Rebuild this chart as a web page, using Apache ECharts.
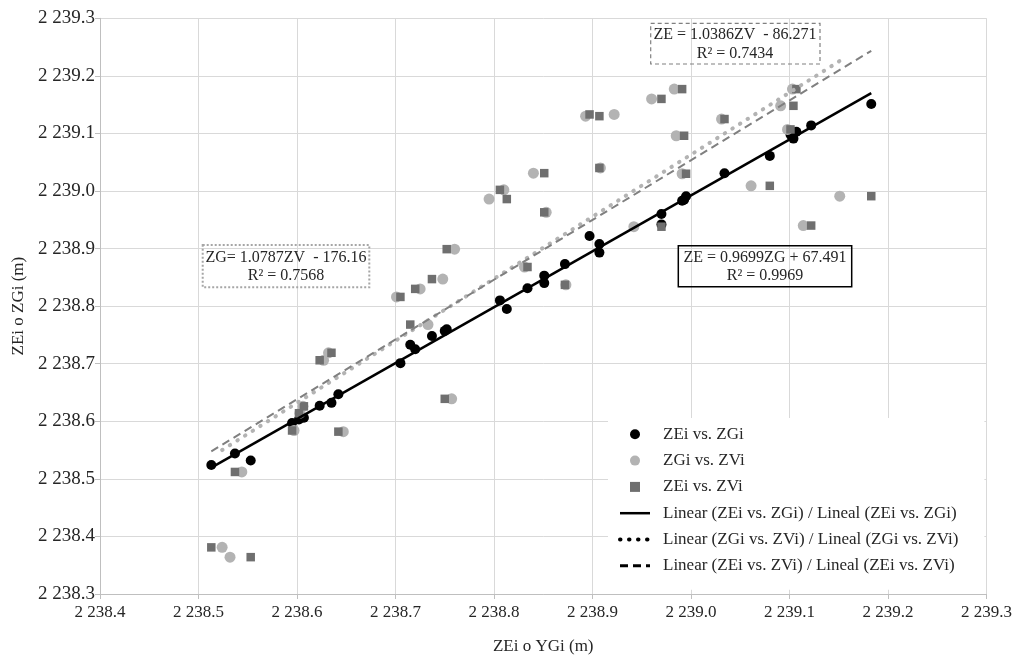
<!DOCTYPE html>
<html><head><meta charset="utf-8">
<script src="https://cdn.jsdelivr.net/npm/echarts@6/dist/echarts.min.js"></script>
<style>html,body{margin:0;padding:0;background:#fff}#c{width:1015px;height:660px}</style>
</head><body><div id="c"></div>
<script>
// Observations: ZEi, ZGi, ZVi (m)
const ZE = [2238.513, 2238.537, 2238.553, 2238.595, 2238.602, 2238.607, 2238.623, 2238.635, 2238.642, 2238.705,
            2238.715, 2238.720, 2238.737, 2238.750, 2238.752, 2238.806, 2238.813, 2238.834, 2238.851, 2238.851,
            2238.872, 2238.897, 2238.907, 2238.907, 2238.970, 2238.970, 2238.993, 2238.991, 2238.995, 2239.034,
            2239.080, 2239.101, 2239.104, 2239.107, 2239.122, 2239.183];
const ZG = [2238.524, 2238.544, 2238.532, 2238.597, 2238.603, 2238.606, 2238.627, 2238.632, 2238.647, 2238.701,
            2238.733, 2238.725, 2238.748, 2238.757, 2238.760, 2238.810, 2238.795, 2238.831, 2238.840, 2238.853,
            2238.873, 2238.922, 2238.908, 2238.893, 2238.960, 2238.942, 2238.985, 2238.983, 2238.991, 2239.031,
            2239.061, 2239.098, 2239.091, 2239.103, 2239.114, 2239.151];
const ZV = [2238.381, 2238.512, 2238.364, 2238.584, 2238.614, 2238.626, 2238.706, 2238.719, 2238.582, 2238.816,
            2238.768, 2238.830, 2238.847, 2238.639, 2238.899, 2239.002, 2238.986, 2238.868, 2239.031, 2238.963,
            2238.837, 2239.133, 2239.040, 2239.130, 2239.160, 2238.938, 2239.096, 2239.177, 2239.030, 2239.125,
            2239.009, 2239.107, 2239.148, 2239.177, 2238.940, 2238.991];

const seriesNames = ['ZEi vs. ZGi', 'ZGi vs. ZVi', 'ZEi vs. ZVi',
  'Linear (ZEi vs. ZGi) / Lineal (ZEi vs. ZGi)',
  'Linear (ZGi vs. ZVi) / Lineal (ZGi vs. ZVi)',
  'Linear (ZEi vs. ZVi) / Lineal (ZEi vs. ZVi)'];
const xRange = [2238.4, 2239.3];
const yRange = [2238.3, 2239.3];
const tickStep = 0.1;
const xTitle = 'ZEi o YGi (m)';
const yTitle = 'ZEi o ZGi (m)';
const eqSolid = ['ZE = 0.9699ZG + 67.491', 'R² = 0.9969'];
const eqDotted = ['ZG= 1.0787ZV  - 176.16', 'R² = 0.7568'];
const eqDashed = ['ZE = 1.0386ZV  - 86.271', 'R² = 0.7434'];

const FONT = "'Liberation Serif','Times New Roman',serif";
const TXT = '#262626';

function zip(a, b) { return a.map((v, i) => [v, b[i]]); }
function trend(xs, ys) {
  const n = xs.length;
  const mx = xs.reduce((s, v) => s + v, 0) / n;
  const my = ys.reduce((s, v) => s + v, 0) / n;
  let sxy = 0, sxx = 0;
  for (let i = 0; i < n; i++) { sxy += (xs[i] - mx) * (ys[i] - my); sxx += (xs[i] - mx) * (xs[i] - mx); }
  const b = sxy / sxx;
  const x0 = Math.min(...xs), x1 = Math.max(...xs);
  return [[x0, my + b * (x0 - mx)], [x1, my + b * (x1 - mx)]];
}
function fmt(v) { return v.toFixed(1).replace(/^(\d)(\d{3})/, '$1 $2'); }

const chart = echarts.init(document.getElementById('c'), null, { renderer: 'canvas' });

function box(x, y, w, h, stroke, lw, dash, lines, cx, y1, y2) {
  return [
    { type: 'rect', z: 100, shape: { x: x, y: y, width: w, height: h },
      style: { fill: 'rgba(0,0,0,0)', stroke: stroke, lineWidth: lw, lineDash: dash } },
    { type: 'text', z: 101, x: cx, y: y1, style: { text: lines[0], font: '16px ' + FONT, fill: TXT, textAlign: 'center', textVerticalAlign: 'middle' } },
    { type: 'text', z: 101, x: cx, y: y2, style: { text: lines[1], font: '16px ' + FONT, fill: TXT, textAlign: 'center', textVerticalAlign: 'middle' } }
  ];
}

const hideSym = { opacity: 0, color: 'rgba(0,0,0,0)', borderWidth: 0 };

const option = {
  backgroundColor: '#fff',
  animation: false,
  grid: { left: 100, right: 25, top: 18.3, bottom: 65.7, containLabel: false },
  xAxis: {
    type: 'value', min: xRange[0], max: xRange[1], interval: tickStep,
    name: xTitle, nameLocation: 'middle', nameGap: 44,
    nameTextStyle: { fontFamily: FONT, fontSize: 17, color: TXT },
    axisLine: { show: true, lineStyle: { color: '#bfbfbf', width: 1 } },
    axisTick: { show: true, length: 5, lineStyle: { color: '#bfbfbf' } },
    axisLabel: { formatter: fmt, fontFamily: FONT, fontSize: 17, color: TXT, margin: 10 },
    splitLine: { show: true, lineStyle: { color: '#d9d9d9', width: 1 } }
  },
  yAxis: {
    type: 'value', min: yRange[0], max: yRange[1], interval: tickStep,
    name: yTitle, nameLocation: 'middle', nameGap: 72, nameRotate: 90,
    nameTextStyle: { fontFamily: FONT, fontSize: 17, color: TXT },
    axisLine: { show: true, lineStyle: { color: '#bfbfbf', width: 1 } },
    axisTick: { show: true, length: 5, lineStyle: { color: '#bfbfbf' } },
    axisLabel: { formatter: fmt, fontFamily: FONT, fontSize: 19, color: TXT, margin: 5 },
    splitLine: { show: true, lineStyle: { color: '#d9d9d9', width: 1 } }
  },
  legend: {
    orient: 'vertical', left: 608, top: 418,
    padding: [6.3, 26, 14, 10],
    backgroundColor: '#fff',
    itemWidth: 30, itemHeight: 10, itemGap: 6.3,
    textStyle: { fontFamily: FONT, fontSize: 17, color: TXT, lineHeight: 20, padding: [0, 0, 0, 8] },
    data: [
      { name: seriesNames[0], icon: 'circle' },
      { name: seriesNames[1], icon: 'circle' },
      { name: seriesNames[2], icon: 'path://M0,0L1,0L1,1L0,1Z' },
      { name: seriesNames[3], itemStyle: hideSym, lineStyle: { color: '#000', width: 2.5, type: 'solid', opacity: 1 } },
      { name: seriesNames[4], itemStyle: hideSym, lineStyle: { color: '#000', width: 4, type: [0.5, 8.5], cap: 'round', opacity: 1 } },
      { name: seriesNames[5], itemStyle: hideSym, lineStyle: { color: '#000', width: 3, type: [8, 5], opacity: 1 } }
    ]
  },
  series: [
    { name: seriesNames[0], type: 'scatter', data: zip(ZE, ZG), symbol: 'circle', symbolSize: 10,
      itemStyle: { color: '#000', opacity: 1 }, z: 2 },
    { name: seriesNames[1], type: 'scatter', data: zip(ZG, ZV), symbol: 'circle', symbolSize: 11,
      itemStyle: { color: '#b3b3b3', opacity: 1 }, z: 3 },
    { name: seriesNames[2], type: 'scatter', data: zip(ZE, ZV), symbol: 'rect', symbolSize: 8.5,
      itemStyle: { color: '#6f6f6f', opacity: 1 }, z: 4 },
    { name: seriesNames[3], type: 'line', data: trend(ZE, ZG), symbol: 'none', showSymbol: false,
      lineStyle: { color: '#000', width: 2.5 }, itemStyle: { color: '#000' }, z: 6 },
    { name: seriesNames[4], type: 'line', data: trend(ZG, ZV), symbol: 'none', showSymbol: false,
      lineStyle: { color: '#b3b3b3', width: 4, type: [0.5, 8.5], cap: 'round' }, itemStyle: { color: '#b3b3b3' }, z: 5 },
    { name: seriesNames[5], type: 'line', data: trend(ZE, ZV), symbol: 'none', showSymbol: false,
      lineStyle: { color: '#808080', width: 2, type: [8, 5] }, itemStyle: { color: '#808080' }, z: 5 }
  ],
  graphic: [].concat(
    box(650.7, 23.3, 169.3, 40.7, '#808080', 1.2, [4, 3], eqDashed, 735, 35, 54),
    box(202.7, 245, 166.6, 42.3, '#a6a6a6', 2, [2, 2], eqDotted, 286, 258, 276),
    box(678.3, 245.7, 173.4, 41, '#000', 1.5, null, eqSolid, 765, 257.5, 276)
  )
};
chart.setOption(option);
</script>
</body></html>
